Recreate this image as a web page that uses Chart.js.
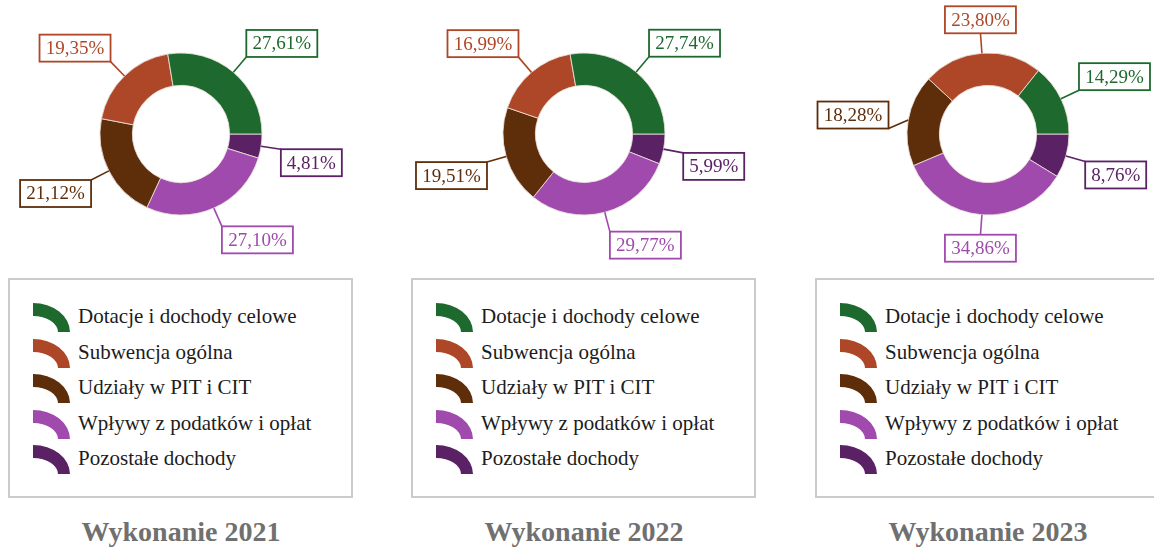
<!DOCTYPE html>
<html>
<head>
<meta charset="utf-8">
<script src="https://cdn.jsdelivr.net/npm/chart.js@4/dist/chart.umd.min.js"></script>
<style>
html,body{margin:0;padding:0;background:#fff;}
body{width:1154px;height:548px;overflow:hidden;position:relative;font-family:"Liberation Serif","Times New Roman",serif;}
canvas.cv{position:absolute;top:0;}
.legend{position:absolute;top:278px;width:341px;height:216px;border:2px solid #cbcbcb;}
.item{position:absolute;left:0;height:30px;line-height:30px;font-size:21px;color:#1c1c1c;white-space:nowrap;}
.item canvas{position:absolute;left:22px;top:1px;}
.item span{position:absolute;left:68px;top:0;}
.title{position:absolute;top:518px;width:300px;text-align:center;font-weight:bold;font-size:28px;line-height:28px;color:#707070;}
</style>
</head>
<body>
<script>
// ---- data ----
const categories = ['Dotacje i dochody celowe', 'Subwencja ogólna', 'Udziały w PIT i CIT', 'Wpływy z podatków i opłat', 'Pozostałe dochody'];
const years = ['2021', '2022', '2023'];
const values2021 = [27.61, 19.35, 21.12, 27.10, 4.81];
const values2022 = [27.74, 16.99, 19.51, 29.77, 5.99];
const values2023 = [14.29, 23.80, 18.28, 34.86, 8.76];
const panelTitles = ['Wykonanie 2021', 'Wykonanie 2022', 'Wykonanie 2023'];

// ---- styles ----
const colors = ['#1e6a2e', '#ae4727', '#5e2e0b', '#a04aae', '#5a2265'];
const centersX = [181, 584, 988];
const centerY = 134;
const outerR = 81;
const labelNudges = [{}, {}, {2: [0, 12]}];
const allValues = [values2021, values2022, values2023];

const fmt = v => v.toFixed(2).replace('.', ',') + '%';

const boxLabels = {
  id: 'boxLabels',
  afterDatasetsDraw(chart, args, opts) {
    const ctx = chart.ctx;
    const meta = chart.getDatasetMeta(0);
    const ds = chart.data.datasets[0];
    const n = ds.data.length;
    ctx.save();
    ctx.font = '19px "Liberation Serif"';
    meta.data.forEach((arc, i) => {
      const p = arc.getProps(['x', 'y', 'startAngle', 'endAngle', 'outerRadius'], true);
      const mid = (p.startAngle + p.endAngle) / 2;
      const c = Math.cos(mid), s = Math.sin(mid);
      const px = p.x + c * p.outerRadius, py = p.y + s * p.outerRadius;
      const catIdx = n - 1 - i;
      const nud = (opts.nudges && opts.nudges[catIdx]) || [0, 0];
      const ex = px + c * opts.lead + nud[0], ey = py + s * opts.lead + nud[1];
      const text = fmt(ds.data[i]);
      const tw = ctx.measureText(text).width;
      const bw = Math.round(tw + 2 * opts.padX), bh = opts.boxH;
      const bx = Math.abs(c) < 0.2 ? ex - bw / 2 : (c > 0 ? ex : ex - bw);
      const by = s < 0 ? ey - bh : ey;
      const col = ds.backgroundColor[i];
      ctx.strokeStyle = col;
      ctx.lineWidth = 1.6;
      ctx.beginPath();
      ctx.moveTo(px, py);
      ctx.lineTo(ex, ey);
      ctx.stroke();
      ctx.fillStyle = '#ffffff';
      ctx.fillRect(bx, by, bw, bh);
      ctx.lineWidth = 1.8;
      ctx.strokeRect(bx, by, bw, bh);
      ctx.fillStyle = col;
      ctx.textAlign = 'center';
      ctx.textBaseline = 'middle';
      ctx.fillText(text, bx + bw / 2, by + bh / 2 + 1);
    });
    ctx.restore();
  }
};

const W = 360, H = 270;
years.forEach((yr, k) => {
  const cv = document.createElement('canvas');
  cv.className = 'cv';
  cv.width = W; cv.height = H;
  cv.style.left = (centersX[k] - W / 2) + 'px';
  cv.style.width = W + 'px'; cv.style.height = H + 'px';
  document.body.appendChild(cv);
  const vals = allValues[k].slice().reverse();
  const cols = colors.slice().reverse();
  const labs = categories.slice().reverse();
  const padX = W / 2 - outerR - 0.5;
  new Chart(cv, {
    type: 'doughnut',
    data: {
      labels: labs,
      datasets: [{
        data: vals,
        backgroundColor: cols,
        borderColor: 'rgba(235,225,220,0.85)',
        borderWidth: 1
      }]
    },
    options: {
      responsive: false,
      animation: false,
      rotation: 90,
      cutout: '60%',
      layout: {padding: {left: padX, right: padX, top: centerY - outerR - 0.5, bottom: H - centerY - outerR - 0.5}},
      plugins: {
        legend: {display: false},
        tooltip: {enabled: false},
        boxLabels: {lead: 20, padX: 6, boxH: 27, nudges: labelNudges[k]}
      }
    },
    plugins: [boxLabels]
  });

  // legend box
  const lg = document.createElement('div');
  lg.className = 'legend';
  lg.style.left = (centersX[k] - 173) + 'px';
  categories.forEach((name, i) => {
    const it = document.createElement('div');
    it.className = 'item';
    it.style.top = (21 + 35.5 * i) + 'px';
    it.style.width = '340px';
    const ic = document.createElement('canvas');
    ic.width = 40; ic.height = 31;
    const c2 = ic.getContext('2d');
    c2.fillStyle = colors[i];
    c2.beginPath();
    c2.ellipse(1, 30, 37, 29, 0, -Math.PI / 2, 0, false);
    c2.ellipse(1, 30, 25, 16, 0, 0, -Math.PI / 2, true);
    c2.closePath();
    c2.fill();
    it.appendChild(ic);
    const sp = document.createElement('span');
    sp.textContent = name;
    it.appendChild(sp);
    lg.appendChild(it);
  });
  document.body.appendChild(lg);

  const t = document.createElement('div');
  t.className = 'title';
  t.style.left = (centersX[k] - 150) + 'px';
  t.textContent = panelTitles[k];
  document.body.appendChild(t);
});
</script>
</body>
</html>
